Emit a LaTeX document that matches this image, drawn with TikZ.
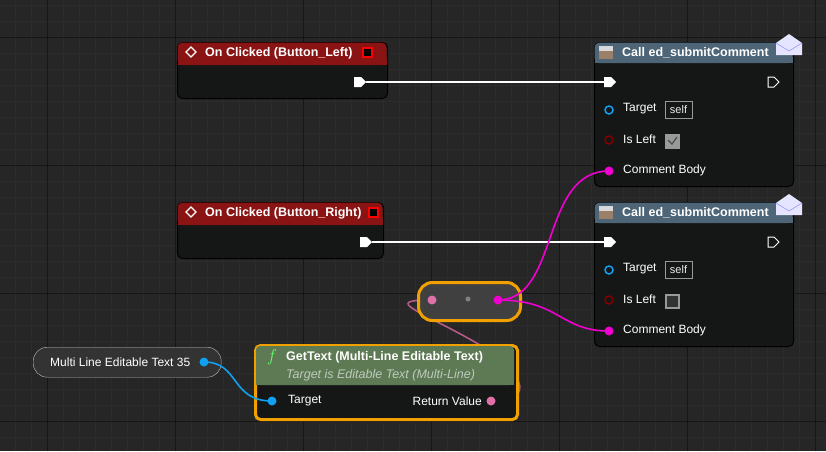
\documentclass[tikz,border=0pt]{standalone}
\usepackage{fontspec}
\setmainfont{Liberation Sans}
\usetikzlibrary{shapes.geometric}
\definecolor{bg}{HTML}{262626}
\definecolor{minor}{HTML}{2C2C2C}
\definecolor{major}{HTML}{161616}
\definecolor{body}{HTML}{151716}
\definecolor{evred}{HTML}{8A1414}
\definecolor{fnblue}{HTML}{4E6577}
\definecolor{fngreen}{HTML}{5E7A55}
\definecolor{sel}{HTML}{F0A000}
\definecolor{mag}{HTML}{F000D0}
\definecolor{pinkp}{HTML}{E070A8}
\definecolor{objb}{HTML}{10A0F0}
\definecolor{boolr}{HTML}{800000}
\tikzset{
 nodebody/.style={fill=body,rounded corners=5pt,draw=black,line width=1pt},
 lbl/.style={text=white,font=\fontsize{12}{13}\selectfont,anchor=west,inner sep=0},
 hdr/.style={text=white,font=\bfseries\fontsize{12.5}{13}\selectfont,anchor=west,inner sep=0},
 exec/.style={fill=white},
 execo/.style={draw=white,line width=1pt},
 wire/.style={line width=1.6pt},
}
\begin{document}
\begin{tikzpicture}[x=1pt,y=-1pt]
\useasboundingbox (0,0) rectangle (826,451);
\fill[bg] (0,0) rectangle (826,451);
\foreach \x in {15,31,...,826} \draw[minor,line width=0.8pt] (\x,0) -- (\x,451);
\foreach \y in {5,21,...,451} \draw[minor,line width=0.8pt] (0,\y) -- (826,\y);
\foreach \x in {47,175,303,431,559,687,815} \draw[major,line width=1pt] (\x,0) -- (\x,451);
\foreach \y in {37,165,293,421} \draw[major,line width=1pt] (0,\y) -- (826,\y);

\coordinate (e1o) at (366,82); \coordinate (e1i) at (604,82);
\coordinate (e2o) at (372,242); \coordinate (e2i) at (604,242);
\coordinate (rrin) at (432,300); \coordinate (rrout) at (498,300);
\coordinate (cb1) at (609,171); \coordinate (cb2) at (609,331);
\coordinate (rv) at (491,401); \coordinate (tg) at (272,401); \coordinate (mlv) at (204,362);
% wire behind nodes
\draw[pinkp!80!black,wire] (rv) .. controls (540,401) and (520,370) .. (480,345) .. controls (420,310) and (380,300) .. (rrin);

% On Clicked Left
\node[nodebody,minimum width=210,minimum height=56,anchor=north west] (ocl) at (177,42) {};
\fill[evred,rounded corners=5pt] (177.5,42.5) rectangle (386.5,65) ;
\fill[evred] (177.5,58) rectangle (386.5,65);
\draw[white,line width=1.2pt] (191,47) -- (196,52) -- (191,57) -- (186,52) -- cycle;
\node[hdr] (oclt) at (205,53) {On Clicked (Button\_Left)};
\draw[red,line width=1.2pt,fill=black] (363,48) rectangle (372,57);

% On Clicked Right
\node[nodebody,minimum width=206,minimum height=56,anchor=north west] (ocr) at (177,202) {};
\fill[evred,rounded corners=5pt] (177.5,202.5) rectangle (382.5,225);
\fill[evred] (177.5,218) rectangle (382.5,225);
\draw[white,line width=1.2pt] (191,207) -- (196,212) -- (191,217) -- (186,212) -- cycle;
\node[hdr] (ocrt) at (205,213) {On Clicked (Button\_Right)};
\draw[red,line width=1.2pt,fill=black] (369,208) rectangle (378,217);

% Call nodes
\foreach \n/\yy in {c1/42,c2/202}{
 \node[nodebody,minimum width=199,minimum height=144,anchor=north west] (\n) at (594,\yy) {};
 \fill[fnblue,rounded corners=5pt] (594.5,\yy+0.5) rectangle (792.5,\yy+21);
 \fill[fnblue] (594.5,\yy+15) rectangle (792.5,\yy+21);
 \fill[gray!30] (599,\yy+4) rectangle (613,\yy+17);
 \fill[gray!60!brown] (599,\yy+9) rectangle (613,\yy+17);
 \node[hdr] (\n t) at (622,\yy+11) {Call ed\_submitComment};
 \fill[blue!10] (776,\yy+1) -- (789,\yy-8) -- (802,\yy+1) -- (802,\yy+13) -- (776,\yy+13) -- cycle;
 \draw[blue!40,line width=0.6pt] (776,\yy+1) -- (789,\yy+9) -- (802,\yy+1);
 \draw[execo] (768,\yy+35) -- (774,\yy+35) -- (779,\yy+40) -- (774,\yy+45) -- (768,\yy+45) -- cycle;
 \draw[objb,line width=1.5pt] (609,\yy+68) circle (4);
 \node[lbl] (\n a) at (623,\yy+67) {Target};
 \draw[gray!80,line width=0.8pt] (665,\yy+59) rectangle (692,\yy+76);
 \node[text=white!85!gray,font=\fontsize{11}{12}\selectfont,inner sep=0] (\n s) at (678.5,\yy+67.5) {self};
 \draw[boolr,line width=1.5pt] (609,\yy+98) circle (4);
 \node[lbl] (\n b) at (623,\yy+97) {Is Left};
 \fill[gray!80] (665,\yy+92) rectangle (680,\yy+107);
 \fill[black!80] (667,\yy+94) rectangle (678,\yy+105);
 \node[lbl] (\n c) at (623,\yy+128) {Comment Body};
}
\fill[gray!80] (667,136) rectangle (678,147);
\draw[black!70,line width=1.2pt] (668,140) -- (672,144) -- (677,137);

% reroute
\node[draw=sel,line width=3pt,fill=black!75,rounded corners=14pt,minimum width=102,minimum height=38,anchor=north west] (rr) at (417,281) {};
\fill[gray] (468,299) circle (2.5);

% multi line variable
\node[fill=black!80,draw=gray!50,rounded corners=14pt,minimum width=188,minimum height=30,anchor=north west] (ml) at (33,347) {};
\node[lbl] (mlt) at (50,362) {Multi Line Editable Text 35};

% GetText
\node[nodebody,draw=sel,line width=3pt,minimum width=262,minimum height=74,anchor=north west] (gt) at (254,344) {};
\fill[fngreen,rounded corners=4pt] (256,346) rectangle (514,385);
\fill[fngreen] (256,378) rectangle (514,385);
\node[text=green!60!white,font=\itshape\fontsize{16}{16}\selectfont,inner sep=0] (gtf) at (272,357) {$f$};
\node[hdr] (gtt) at (286,357) {GetText (Multi-Line Editable Text)};
\node[lbl,text=white!60!fngreen,font=\itshape\fontsize{12.5}{13}\selectfont] (gts) at (286,375) {Target is Editable Text (Multi-Line)};
\node[lbl] (gta) at (288,401) {Target};
\node[lbl,anchor=east] (gtr) at (482,401) {Return Value};

% wires over node edges
\draw[white,wire] (e1o) -- (e1i);
\draw[white,wire] (e2o) -- (e2i);
\draw[mag,wire] (rrout) .. controls (560,300) and (540,171) .. (cb1);
\draw[mag,wire] (rrout) .. controls (560,300) and (560,331) .. (cb2);
\draw[objb,wire] (mlv) .. controls (240,362) and (230,401) .. (tg);

% pins
\fill[exec] (354,77) -- (361,77) -- (366,82) -- (361,87) -- (354,87) -- cycle;
\fill[exec] (360,237) -- (367,237) -- (372,242) -- (367,247) -- (360,247) -- cycle;
\foreach \yy in {42,202}{
 \fill[exec] (604,\yy+35) -- (611,\yy+35) -- (616,\yy+40) -- (611,\yy+45) -- (604,\yy+45) -- cycle;
}
\fill[mag] (cb1) circle (4.5);
\fill[mag] (cb2) circle (4.5);
\fill[pinkp] (rrin) circle (4.5);
\fill[mag] (rrout) circle (4.5);
\fill[objb] (mlv) circle (4.5);
\fill[objb] (tg) circle (4.5);
\fill[pinkp] (rv) circle (4.5);
\end{tikzpicture}
\end{document}
